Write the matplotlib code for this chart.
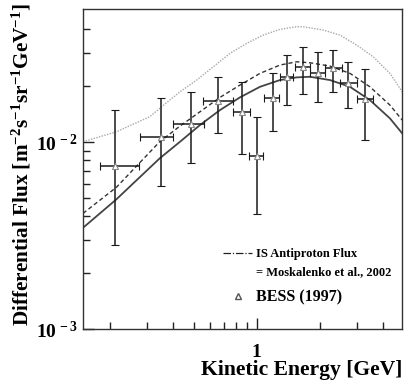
import matplotlib
matplotlib.use("Agg")
import matplotlib.pyplot as plt
import numpy as np
from matplotlib.ticker import FixedLocator, FuncFormatter, NullFormatter
from matplotlib.lines import Line2D

plt.rcParams['font.family'] = 'serif'
plt.rcParams['font.serif'] = ['Liberation Serif', 'DejaVu Serif']
plt.rcParams['font.weight'] = 'bold'
plt.rcParams['mathtext.fontset'] = 'custom'
plt.rcParams['mathtext.rm'] = 'Liberation Serif:bold'
plt.rcParams['mathtext.it'] = 'Liberation Serif:bold'
plt.rcParams['mathtext.bf'] = 'Liberation Serif:bold'

# BESS (1997) points
e = [0.210, 0.348, 0.486, 0.656, 0.851, 1.000, 1.192, 1.390, 1.657, 1.966, 2.303, 2.716, 3.283]
e_lo = [0.179, 0.278, 0.398, 0.557, 0.774, 0.922, 1.083, 1.291, 1.522, 1.795, 2.117, 2.495, 3.017]
e_hi = [0.275, 0.400, 0.561, 0.774, 0.929, 1.075, 1.281, 1.494, 1.795, 2.117, 2.542, 2.997, 3.573]
flux = [0.00744, 0.0106, 0.01248, 0.01663, 0.01441, 0.00842, 0.01713, 0.02235, 0.02527, 0.02330, 0.02478, 0.02075, 0.01692]
flux_lo = [0.00281, 0.00582, 0.00775, 0.01121, 0.00863, 0.00412, 0.01149, 0.01577, 0.01805, 0.01643, 0.01857, 0.01514, 0.01025]
flux_hi = [0.01483, 0.01713, 0.01857, 0.02235, 0.0210, 0.01366, 0.02330, 0.02919, 0.03233, 0.03040, 0.03105, 0.02688, 0.02448]

# IS antiproton flux (dotted)
e_is = [0.1486, 0.2142, 0.309, 0.3848, 0.4309, 0.5176, 0.621, 0.746, 0.896, 1.075, 1.291, 1.551, 1.668,
        2.077, 2.495, 2.997, 3.595, 4.319, 4.943]
f_is = [0.01004, 0.01135, 0.01366, 0.01677, 0.01857, 0.02146, 0.02527, 0.02981, 0.03372, 0.03735, 0.04007,
        0.04137, 0.04137, 0.03972, 0.03735, 0.03302, 0.02858, 0.02330, 0.01857]

# modulated (dashed)
e_dash = [0.1486, 0.2142, 0.3448, 0.4309, 0.5366, 0.6685, 0.8325, 1.037, 1.291, 1.551, 1.795, 2.236,
          2.785, 3.467, 4.319, 4.943]
f_dash = [0.004157, 0.005726, 0.01004, 0.01218, 0.01452, 0.01734, 0.02018, 0.0233, 0.02581, 0.02688,
          0.02655, 0.02549, 0.0233, 0.01975, 0.01577, 0.01311]

# modulated (solid)
e_sol = [0.1486, 0.2142, 0.3448, 0.4309, 0.5366, 0.6685, 0.8325, 1.037, 1.291, 1.551, 1.795, 2.236,
         2.785, 3.467, 4.319, 4.943]
f_sol = [0.003481, 0.004939, 0.008182, 0.01004, 0.01233, 0.01483, 0.01734, 0.01975, 0.02146, 0.02218,
         0.02235, 0.02146, 0.01975, 0.01677, 0.01339, 0.01113]

fig = plt.figure(figsize=(4.05, 3.8), dpi=100)
ax = fig.add_axes([0.205, 0.134, 0.788, 0.842])

ax.plot(e_is, f_is, ls=(0, (1, 1)), color='#a8a8a8', lw=1.0)
ax.plot(e_dash, f_dash, ls=(0, (3, 2)), color='#333333', lw=1.0)
ax.plot(e_sol, f_sol, ls='-', color='#444444', lw=1.3)

e = np.array(e); flux = np.array(flux)
xerr = [e - np.array(e_lo), np.array(e_hi) - e]
yerr = [flux - np.array(flux_lo), np.array(flux_hi) - flux]
ax.errorbar(e, flux, xerr=xerr, yerr=yerr, fmt='^', ms=5, mfc='white', mec='#888888', mew=0.8,
            ecolor='#1a1a1a', elinewidth=1.1, capsize=3, capthick=1.1)

ax.set_xscale('log')
ax.set_yscale('log')
ax.set_xlim(0.1486, 4.94)
ax.set_ylim(1e-3, 0.0514)

ax.xaxis.set_major_locator(FixedLocator([1]))
ax.xaxis.set_minor_locator(FixedLocator([0.2, 0.3, 0.4, 0.5, 0.6, 0.7, 0.8, 0.9, 2, 3, 4]))
ax.xaxis.set_major_formatter(FuncFormatter(lambda v, p: '1'))
ax.xaxis.set_minor_formatter(NullFormatter())
ax.yaxis.set_major_locator(FixedLocator([1e-3, 1e-2]))
ax.yaxis.set_minor_locator(FixedLocator([2e-3, 3e-3, 4e-3, 5e-3, 6e-3, 7e-3, 8e-3, 9e-3, 2e-2, 3e-2, 4e-2]))
ax.yaxis.set_major_formatter(FuncFormatter(lambda v, p: r'$10^{\,%d}$' % round(np.log10(v))))
ax.yaxis.set_minor_formatter(NullFormatter())

ax.tick_params(which='both', direction='in', top=False, right=False, labelsize=14, color='#222222')
ax.tick_params(which='major', length=8, width=1)
ax.tick_params(which='minor', length=5, width=1)
ax.tick_params(axis='x', pad=11)
for s in ax.spines.values():
    s.set_color('#333333')
    s.set_linewidth(1.0)

ax.set_xlabel('Kinetic Energy [GeV]', fontsize=15.6, fontweight='bold', loc='right', labelpad=-1)
ax.set_ylabel('Differential Flux [m$^{-2}$s$^{-1}$sr$^{-1}$GeV$^{-1}$]', fontsize=15.3, fontweight='bold')
ax.yaxis.set_label_coords(-0.155, 0.515)

h_lines = [Line2D([], [], ls=(0, (6, 1.5, 1, 1.5)), color='#222222', lw=0.9),
           Line2D([], [], ls='none')]
leg1 = ax.legend(h_lines, ['IS Antiproton Flux', '= Moskalenko et al., 2002'], loc='center left',
                 bbox_to_anchor=(0.44, 0.207), frameon=False, fontsize=9, handlelength=2.3,
                 handletextpad=0.3, borderpad=0, borderaxespad=0, labelspacing=0.45)
ax.add_artist(leg1)
h_bess = [Line2D([], [], ls='none', marker='^', ms=4, mfc='white', mec='#555555')]
ax.legend(h_bess, ['BESS (1997)'], loc='center left', bbox_to_anchor=(0.44, 0.099), frameon=False,
          fontsize=11.5, handlelength=1.8, handletextpad=0.23, borderpad=0, borderaxespad=0)

fig.savefig('out.png', dpi=100)
plt.close('all')
